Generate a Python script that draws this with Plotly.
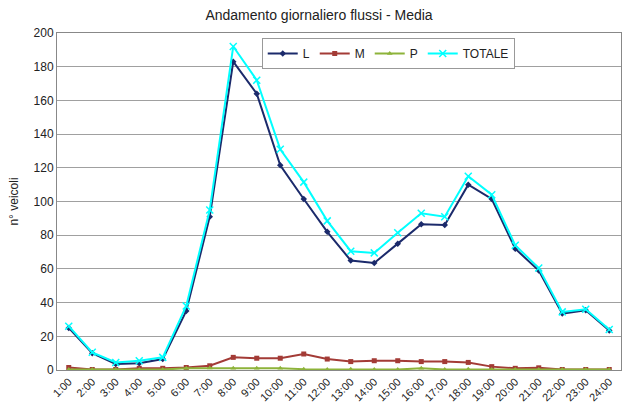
import plotly.graph_objects as go

ore = [f'{h}:00' for h in range(1, 25)]

serie_L = [25, 10, 3.5, 4, 6.5, 35, 91, 183, 164, 121.5, 101.5, 82, 65, 63.5, 75, 86.5, 86, 110, 101.5, 72, 59, 33.5, 35.5, 23.5]
serie_M = [1.5, 0.3, 0.3, 1, 1, 1.5, 2.5, 7.5, 7, 7, 9.5, 6.5, 5, 5.5, 5.5, 5, 5, 4.5, 2, 1, 1.3, 0.3, 0.3, 0.3]
serie_P = [0.3, 0.3, 0.3, 0.3, 0.3, 1, 1.2, 1, 1, 1, 0.5, 0.3, 0.5, 0.3, 0.3, 1, 0.3, 0.5, 0.3, 0.3, 0.3, 0.3, 0.3, 0.3]
serie_TOT = [26, 10.5, 4.5, 5.5, 7.5, 38, 95, 192, 172, 131, 111.5, 88.5, 70.5, 69.5, 81.5, 93, 91, 115, 104, 74, 60.5, 34.5, 36, 24]

fig = go.Figure()
fig.add_trace(go.Scatter(x=ore, y=serie_L, name='L', mode='lines+markers',
                         line=dict(color='#1B2A6B', width=2), marker=dict(symbol='diamond', size=5)))
fig.add_trace(go.Scatter(x=ore, y=serie_M, name='M', mode='lines+markers',
                         line=dict(color='#A33B36', width=2), marker=dict(symbol='square', size=5)))
fig.add_trace(go.Scatter(x=ore, y=serie_P, name='P', mode='lines+markers',
                         line=dict(color='#8DB33A', width=2), marker=dict(symbol='triangle-up', size=5)))
fig.add_trace(go.Scatter(x=ore, y=serie_TOT, name='TOTALE', mode='lines+markers',
                         line=dict(color='#00FFFF', width=2), marker=dict(symbol='x-thin', size=7,
                                                                         line=dict(color='#00FFFF', width=1.5))))

fig.update_layout(
    width=622, height=410,
    margin=dict(l=57, r=1, t=33, b=40, autoexpand=False),
    paper_bgcolor='white', plot_bgcolor='white',
    font=dict(family='Liberation Sans, Arial', size=12, color='#222'),
    title=dict(text='Andamento giornaliero flussi - Media', x=319 / 622, xanchor='center',
               y=1 - 15 / 410, yanchor='middle', font=dict(size=14, color='#222')),
    legend=dict(orientation='h', x=0.363, xanchor='left', y=0.985, yanchor='top',
                bordercolor='#999', borderwidth=1, bgcolor='white', font=dict(size=12),
                itemwidth=30, tracegroupgap=0),
    showlegend=True,
)
fig.update_xaxes(type='category', tickangle=-45, showline=True, linecolor='#888', linewidth=1,
                 mirror=True, showgrid=False, ticks='', tickfont=dict(size=11), range=[-0.5, 23.5])
fig.update_yaxes(range=[0, 200], dtick=20, showgrid=True, gridcolor='#A0A0A0', gridwidth=1,
                 showline=True, linecolor='#888', linewidth=1, mirror=True, zeroline=False,
                 ticks='', tickfont=dict(size=12),
                 title=dict(text='n° veicoli', font=dict(size=12), standoff=12))

fig.write_html('out.html', config={'displayModeBar': False},
               post_script="document.body.style.margin='0';")
